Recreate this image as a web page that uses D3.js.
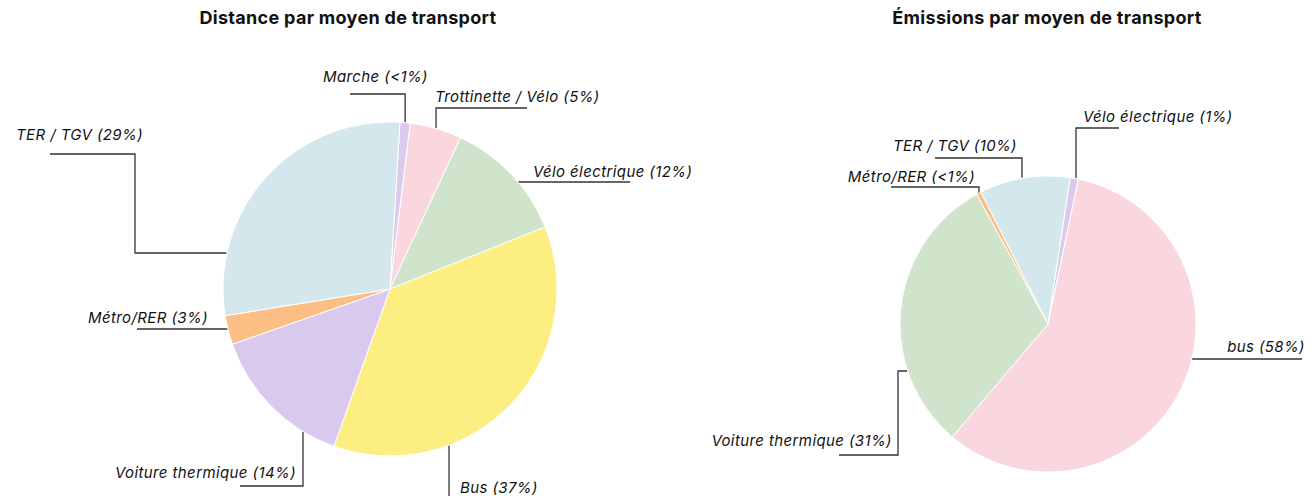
<!DOCTYPE html>
<html>
<head>
<meta charset="utf-8">
<script src="https://cdn.jsdelivr.net/npm/d3@7"></script>
<style>
  body { margin: 0; background: #fff; }
  text { font-family: Inter, "Noto Sans", sans-serif; }
</style>
</head>
<body>
<div id="chart"></div>
<script>
// data

var distTitle = "Distance par moyen de transport";
var distLabels = ["Marche", "Trottinette / Vélo", "Vélo électrique", "Bus", "Voiture thermique", "Métro/RER", "TER / TGV"];
var distValues = [1, 5, 12, 36.5, 14.2, 2.8, 28.5];
var distPct = ["<1%", "5%", "12%", "37%", "14%", "3%", "29%"];
var distColors = ["#d9caee", "#fad6de", "#cfe4ca", "#fdee82", "#dac9ee", "#fdbe84", "#d4e7ec"];

var emiTitle = "Émissions par moyen de transport";
var emiLabels = ["Vélo électrique", "bus", "Voiture thermique", "Métro/RER", "TER / TGV"];
var emiValues = [0.9, 57.9, 30.8, 0.5, 9.9];
var emiPct = ["1%", "58%", "31%", "<1%", "10%"];
var emiColors = ["#d9caee", "#fad6de", "#cfe4ca", "#fdbe84", "#d4e7ec"];

// set svg height/ width

var svgWidth = 1313;
var svgHeight = 496;

var svg = d3.select("#chart")
  .append("svg")
  .attr("width", svgWidth)
  .attr("height", svgHeight);

// label layout, offsets from the pie centre
// route: "v" = vertical to the edge, "h" = horizontal to the edge
var distLayout = [
  {tx: -67, ty: -207, anchor: "start", line: [[-40, -195], ["mid", -195]], route: "v"},
  {tx: 45, ty: -187, anchor: "start", line: [[137, -181], ["mid", -181]], route: "v"},
  {tx: 143, ty: -112, anchor: "start", line: [[240, -107]], route: "h", hy: -107},
  {tx: 70, ty: 204, anchor: "start", line: [[59, 215]], route: "v", vx: 59},
  {tx: -94, ty: 189, anchor: "end", line: [[-150, 197], [-87, 197]], route: "v", vx: -87},
  {tx: -182, ty: 34, anchor: "end", line: [[-253, 40]], route: "h", hy: 40},
  {tx: -247, ty: -149, anchor: "end", line: [[-340, -135], [-255, -135], [-255, -36]], route: "h", hy: -36}
];

var emiLayout = [
  {tx: 35, ty: -202, anchor: "start", line: [[71, -196], [28, -196]], route: "v", vx: 28},
  {tx: 257, ty: 28, anchor: "end", line: [[254, 35]], route: "h", hy: 35},
  {tx: -156, ty: 122, anchor: "end", line: [[-209, 131], [-150, 131], [-150, 47]], route: "h", hy: 47},
  {tx: -73, ty: -142, anchor: "end", line: [[-157, -137], [-69, -137]], route: "v", vx: -69},
  {tx: -31, ty: -173, anchor: "end", line: [[-113, -166], [-26, -166]], route: "v", vx: -26}
];

function drawPie(opts) {
  var g = svg.append("g")
    .attr("transform", "translate(" + opts.cx + "," + opts.cy + ")");

  var r = opts.r;

  var pie = d3.pie()
    .sort(null)
    .value(function(d) { return d; })
    .startAngle(opts.start * Math.PI / 180)
    .endAngle(opts.start * Math.PI / 180 + 2 * Math.PI);

  var arcs = pie(opts.values);

  var arc = d3.arc().innerRadius(0).outerRadius(r);

  // leader lines + labels

  var lineGen = d3.line();
  arcs.forEach(function(a, i) {
    var lay = opts.layout[i];
    var mid = (a.startAngle + a.endAngle) / 2;
    var pts = lay.line.map(function(p) {
      return [p[0] === "mid" ? r * Math.sin(mid) : p[0], p[1]];
    });
    var last = pts[pts.length - 1];
    var end;
    if (lay.route === "v") {
      var vx = lay.vx !== undefined ? lay.vx : last[0];
      if (lay.vx !== undefined && last[0] !== vx) pts.push([vx, last[1]]);
      var dy = Math.sqrt(r * r - vx * vx);
      end = [vx, last[1] < 0 ? -dy : dy];
    } else {
      var hy = lay.hy;
      var dx = Math.sqrt(r * r - hy * hy);
      end = [last[0] < 0 ? -dx : dx, hy];
    }
    pts.push(end);
    g.append("path")
      .attr("d", lineGen(pts))
      .attr("fill", "none")
      .attr("stroke", "#333")
      .attr("stroke-width", 1.3);

    g.append("text")
      .attr("x", lay.tx)
      .attr("y", lay.ty)
      .attr("text-anchor", lay.anchor)
      .attr("font-size", 15)
      .attr("letter-spacing", 0.4)
      .attr("font-style", "italic")
      .attr("fill", "#111")
      .text(opts.labels[i] + " (" + opts.pct[i] + ")");
  });

  // slices

  g.selectAll("path.slice")
    .data(arcs)
    .enter()
    .append("path")
    .attr("class", "slice")
    .attr("d", arc)
    .attr("fill", function(d, i) { return opts.colors[i]; })
    .attr("stroke", "#fff")
    .attr("stroke-width", 1);

  svg.append("text")
    .attr("x", opts.titleX)
    .attr("y", 24)
    .attr("text-anchor", "middle")
    .attr("font-size", 18)
    .attr("letter-spacing", 0.3)
    .attr("font-weight", "bold")
    .attr("fill", "#111")
    .text(opts.title);
}

drawPie({
  cx: 390, cy: 289, r: 167, start: 3.4,
  values: distValues, labels: distLabels, pct: distPct, colors: distColors,
  layout: distLayout, title: distTitle, titleX: 348
});

drawPie({
  cx: 1048, cy: 324, r: 148, start: 8.6,
  values: emiValues, labels: emiLabels, pct: emiPct, colors: emiColors,
  layout: emiLayout, title: emiTitle, titleX: 1047
});
</script>
</body>
</html>
